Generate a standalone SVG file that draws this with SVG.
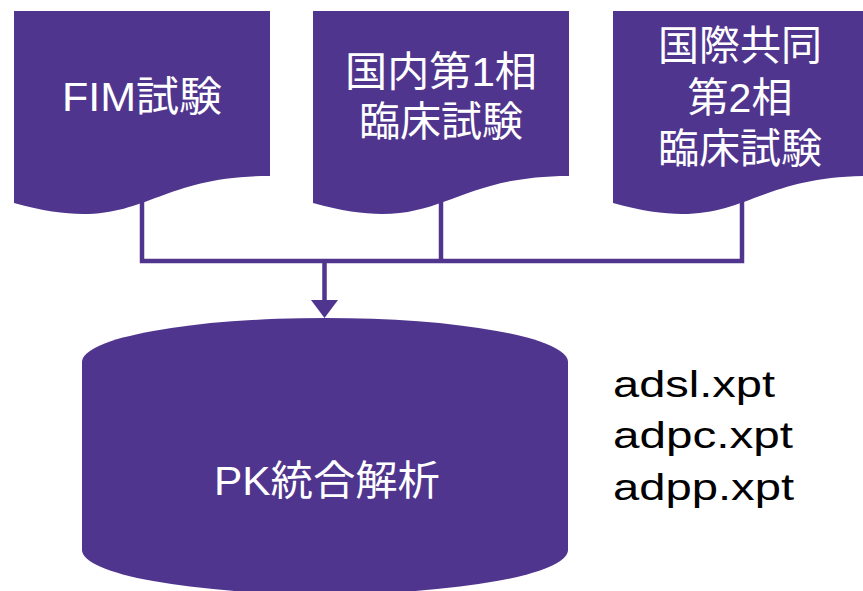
<svg xmlns="http://www.w3.org/2000/svg" width="863" height="591" viewBox="0 0 863 591">
<style>
.shape{fill:#50358E;stroke:none}
.conn{fill:none;stroke:#50358E;stroke-width:4.5}
.lbl{font-family:"Liberation Sans","Noto Sans CJK JP",sans-serif;font-size:41px;fill:#FFFFFF;text-anchor:middle}
.side{font-family:"Liberation Sans","Noto Sans CJK JP",sans-serif;font-size:36px;fill:#000000}
</style>
<rect width="863" height="591" fill="#FFFFFF"/>
<g id="connectors">
<polyline class="conn" points="142,195 142,261 742,261 742,195"/>
<line class="conn" x1="441" y1="195" x2="441" y2="261"/>
<line class="conn" x1="324.5" y1="261" x2="324.5" y2="303"/>
<polygon class="shape" points="311,300 338,300 324.5,318"/>
</g>
<g id="fim">
<path class="shape" d="M14,11 H270 V175.9 C142,175.9 142,238.7 14,203 Z"/>
<text class="lbl" x="142" y="111" textLength="160" lengthAdjust="spacingAndGlyphs">FIM試験</text>
</g>
<g id="domestic">
<path class="shape" d="M313,11 H569 V175.9 C441,175.9 441,238.7 313,203 Z"/>
<text class="lbl" x="441" y="86" textLength="192" lengthAdjust="spacingAndGlyphs">国内第1相</text>
<text class="lbl" x="441" y="136">臨床試験</text>
</g>
<g id="global">
<path class="shape" d="M613,11 H869 V175.9 C741,175.9 741,238.7 613,203 Z"/>
<text class="lbl" x="740" y="60">国際共同</text>
<text class="lbl" x="740" y="112">第2相</text>
<text class="lbl" x="740" y="163">臨床試験</text>
</g>
<g id="pk">
<path class="shape" d="M82,362 A243,44 0 0 1 568,362 V550 A243,44 0 0 1 82,550 Z"/>
<text class="lbl" x="327" y="495" textLength="226" lengthAdjust="spacingAndGlyphs">PK統合解析</text>
</g>
<g id="files">
<text class="side" x="613" y="397" textLength="162" lengthAdjust="spacingAndGlyphs">adsl.xpt</text>
<text class="side" x="613" y="448" textLength="180" lengthAdjust="spacingAndGlyphs">adpc.xpt</text>
<text class="side" x="613" y="500" textLength="181" lengthAdjust="spacingAndGlyphs">adpp.xpt</text>
</g>
</svg>
